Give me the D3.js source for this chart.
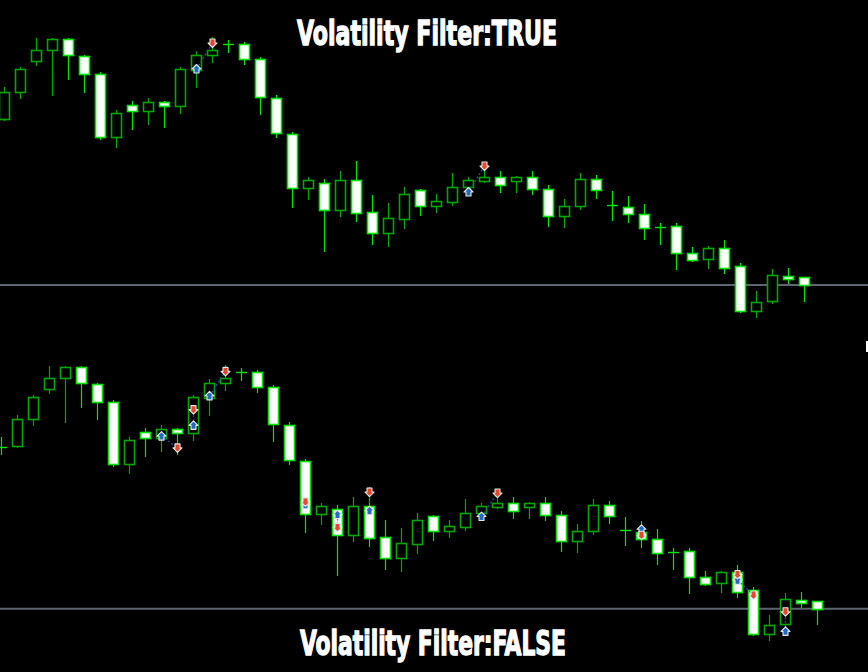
<!DOCTYPE html>
<html>
<head>
<meta charset="UTF-8" />
<title>Volatility Filter</title>
<script src="https://d3js.org/d3.v7.min.js"></script>
<style>
  html, body { margin: 0; padding: 0; background: #000; }
  svg { display: block; }
  .title {
    font-family: 'Liberation Sans Narrow', 'DejaVu Sans Condensed', sans-serif;
    font-weight: bold;
    font-size: 34px;
    fill: #fff;
    stroke: #fff;
    stroke-width: 1.3px;
  }
</style>
</head>
<body>
<svg id="chart" width="868" height="672"></svg>
<script>
// OHLC, one entry per bar (bar 0 only shows in the lower window)
const opens = [1.1180, 1.1181, 1.1208, 1.1239, 1.1250, 1.1261, 1.1244, 1.1226, 1.1163, 1.1195,
  1.1189, 1.1198, 1.1194, 1.1230, 1.1245, 1.1256, 1.1256, 1.1241, 1.1202, 1.1166,
  1.1112, 1.1117, 1.1090, 1.1120, 1.1088, 1.1067, 1.1081, 1.1110, 1.1094, 1.1098,
  1.1113, 1.1119, 1.1123, 1.1119, 1.1123, 1.1111, 1.1084, 1.1094, 1.1121, 1.1095,
  1.1093, 1.1086, 1.1073, 1.1074, 1.1047, 1.1041, 1.1052, 1.1034, 1.0989, 1.0999,
  1.1024, 1.1023];
const highs = [1.1190, 1.1213, 1.1233, 1.1262, 1.1262, 1.1262, 1.1245, 1.1228, 1.1190, 1.1199,
  1.1202, 1.1199, 1.1233, 1.1249, 1.1263, 1.1260, 1.1258, 1.1243, 1.1205, 1.1168,
  1.1123, 1.1121, 1.1129, 1.1139, 1.1105, 1.1097, 1.1113, 1.1111, 1.1106, 1.1127,
  1.1123, 1.1132, 1.1129, 1.1124, 1.1129, 1.1115, 1.1101, 1.1127, 1.1125, 1.1109,
  1.1104, 1.1096, 1.1077, 1.1077, 1.1053, 1.1054, 1.1060, 1.1037, 1.1009, 1.1031,
  1.1032, 1.1023];
const lows = [1.1173, 1.1180, 1.1202, 1.1235, 1.1205, 1.1221, 1.1208, 1.1161, 1.1153, 1.1171,
  1.1176, 1.1173, 1.1187, 1.1213, 1.1238, 1.1248, 1.1236, 1.1186, 1.1163, 1.1093,
  1.1101, 1.1049, 1.1084, 1.1079, 1.1056, 1.1054, 1.1072, 1.1085, 1.1088, 1.1095,
  1.1107, 1.1118, 1.1108, 1.1108, 1.1106, 1.1074, 1.1073, 1.1091, 1.1102, 1.1080,
  1.1078, 1.1061, 1.1056, 1.1031, 1.1039, 1.1032, 1.1027, 1.0988, 1.0983, 1.0997,
  1.1017, 1.0999];
const closes = [1.1180, 1.1208, 1.1231, 1.1250, 1.1261, 1.1245, 1.1226, 1.1163, 1.1187, 1.1189,
  1.1198, 1.1194, 1.1231, 1.1245, 1.1250, 1.1256, 1.1241, 1.1203, 1.1167, 1.1112,
  1.1120, 1.1090, 1.1120, 1.1087, 1.1067, 1.1082, 1.1106, 1.1094, 1.1099, 1.1113,
  1.1120, 1.1123, 1.1115, 1.1123, 1.1111, 1.1084, 1.1094, 1.1121, 1.1110, 1.1095,
  1.1086, 1.1072, 1.1073, 1.1047, 1.1040, 1.1052, 1.1032, 1.0989, 1.0998, 1.1025,
  1.1021, 1.1015];

// trades: [open bar, open price, close bar, close price]
const tradesTrue = [[13, 1.1231, 14, 1.1257], [30, 1.1108, 31, 1.1134]];
const tradesFalse = [[10, 1.1191, 11, 1.1179], [12, 1.1202, 12, 1.1218], [13, 1.1232, 14, 1.1257],
  [19, 1.1121, 19, 1.1124], [21, 1.1111, 21, 1.1098], [23, 1.1115, 23, 1.1134],
  [30, 1.1109, 31, 1.1133], [40, 1.1096, 40, 1.1090], [46, 1.1045, 46, 1.1050],
  [46, 1.1044, 47, 1.1029], [49, 1.0992, 49, 1.1012]];

const titles = ["Volatility Filter:TRUE", "Volatility Filter:FALSE"];

const W = 868, H = 672;
const bullColor = "#00a800", bearColor = "#00e600";
const svg = d3.select("#chart");
svg.append("rect").attr("width", W).attr("height", H).attr("fill", "#000");

const bars = opens.map((o, i) => ({ i, o, h: highs[i], l: lows[i], c: closes[i] }));
const px = v => Math.round(v) + 0.5;

// up arrow (buy) / down arrow (close)
const upArrow = "M0,-4.5 L4.5,0 L2.5,0 L2.5,4 L-2.5,4 L-2.5,0 L-4.5,0 Z";
const downArrow = "M0,4.5 L4.5,0 L2.5,0 L2.5,-4 L-2.5,-4 L-2.5,0 L-4.5,0 Z";

function drawPanel(x, y, trades) {
  const g = svg.append("g");

  // bid line at the last close
  g.append("line")
    .attr("x1", 0).attr("x2", W)
    .attr("y1", y(closes[closes.length - 1])).attr("y2", y(closes[closes.length - 1]))
    .attr("stroke", "#5b6570").attr("stroke-width", 1.8);

  const bar = g.selectAll(".bar").data(bars).enter().append("g");

  bar.append("line")
    .attr("x1", d => px(x(d.i))).attr("x2", d => px(x(d.i)))
    .attr("y1", d => Math.round(y(d.h))).attr("y2", d => Math.round(y(d.l)) + 1)
    .attr("stroke", d => d.c > d.o ? bullColor : bearColor)
    .attr("stroke-width", 1.2);

  // doji
  bar.filter(d => d.c === d.o).append("line")
    .attr("x1", d => Math.round(x(d.i)) - 5).attr("x2", d => Math.round(x(d.i)) + 6)
    .attr("y1", d => px(y(d.o))).attr("y2", d => px(y(d.o)))
    .attr("stroke", bearColor).attr("stroke-width", 1.4);

  bar.filter(d => d.c !== d.o).append("rect")
    .attr("x", d => Math.round(x(d.i)) - 4.5)
    .attr("width", 10)
    .attr("y", d => px(y(Math.max(d.o, d.c))))
    .attr("height", d => Math.max(1, Math.round(y(Math.min(d.o, d.c))) - Math.round(y(Math.max(d.o, d.c)))))
    .attr("fill", d => d.c > d.o ? "#000" : "#fff")
    .attr("stroke", d => d.c > d.o ? bullColor : bearColor)
    .attr("stroke-width", 1.6);

  // trade lines
  g.selectAll(".trade").data(trades).enter().append("line")
    .attr("x1", d => x(d[0]) + 0.5).attr("y1", d => y(d[1]))
    .attr("x2", d => x(d[2]) + 0.5).attr("y2", d => y(d[3]))
    .attr("stroke", "#1d58a8").attr("stroke-width", 1.2)
    .attr("stroke-dasharray", "2,2");

  g.selectAll(".buy").data(trades).enter().append("path")
    .attr("d", upArrow)
    .attr("transform", d => `translate(${x(d[0]) + 0.5},${y(d[1])})`)
    .attr("fill", "#1f6cc4").attr("stroke", "#e8e8e8").attr("stroke-width", 1.1)
    .attr("stroke-linejoin", "round");

  g.selectAll(".sell").data(trades).enter().append("path")
    .attr("d", downArrow)
    .attr("transform", d => `translate(${x(d[2]) + 0.5},${y(d[3])})`)
    .attr("fill", "#e5482a").attr("stroke", "#e8e8e8").attr("stroke-width", 1.1)
    .attr("stroke-linejoin", "round");
}

// top window: filter on
const xTop = d3.scaleLinear().domain([0, 51]).range([-12, 804]);
const yTop = d3.scaleLinear().domain([1.1300, 1.0628]).range([0, 672]);
drawPanel(xTop, yTop, tradesTrue);

// bottom window: filter off
const xBot = d3.scaleLinear().domain([0, 51]).range([1, 817]);
const yBot = d3.scaleLinear().domain([1.1300, 1.0628]).range([329.2, 988.4]);
drawPanel(xBot, yBot, tradesFalse);

svg.append("rect").attr("x", 866).attr("y", 341).attr("width", 2).attr("height", 11).attr("fill", "#fff");

svg.append("text").attr("class", "title")
  .attr("x", 297).attr("y", 44.5)
  .attr("textLength", 260).attr("lengthAdjust", "spacingAndGlyphs")
  .text(titles[0]);
svg.append("text").attr("class", "title")
  .attr("x", 300).attr("y", 654.5)
  .attr("textLength", 266).attr("lengthAdjust", "spacingAndGlyphs")
  .text(titles[1]);
</script>
</body>
</html>
